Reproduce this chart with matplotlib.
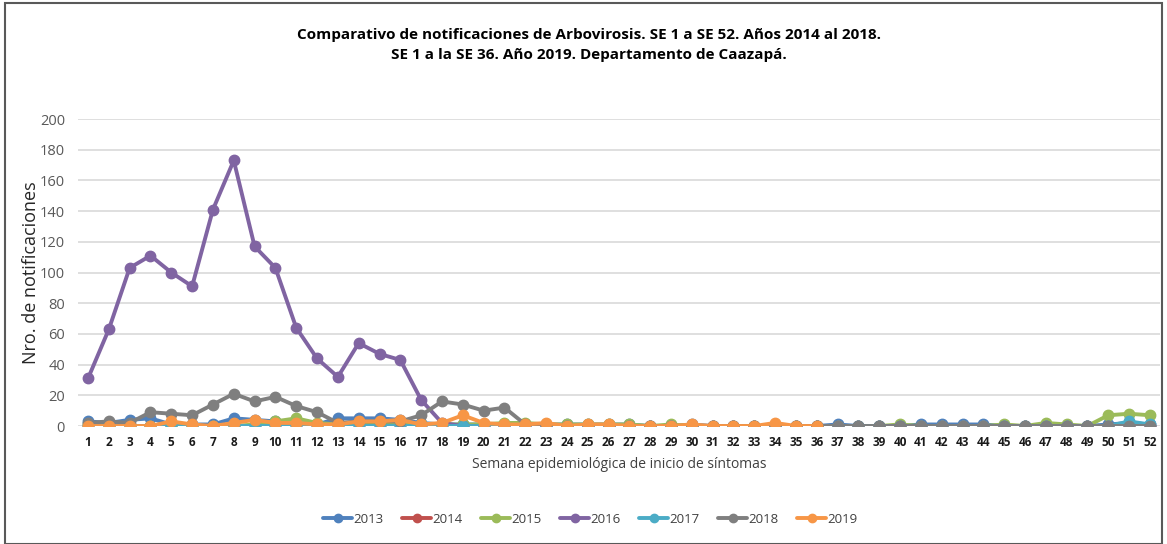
import matplotlib
matplotlib.use('Agg')
import matplotlib.pyplot as plt
from matplotlib.patches import Rectangle

# Semanas epidemiologicas
semanas = list(range(1, 53))

s2013 = [3, 2, 4, 5, 1, 1, 1, 5, 4, 3, 2, 1, 5, 5, 5, 4, 2, 1, 1, 1,
         1, 1, 1, 1, 1, 1, 1, 0, 0, 1, 0, 0, 0, 0, 0, 0, 1, 0, 0, 0,
         1, 1, 1, 1, 0, 0, 0, 0, 0, 1, 2, 1]
s2014 = [0] * 52
s2015 = [1, 0, 0, 0, 0, 0, 0, 0, 1, 3, 5, 2, 1, 2, 2, 2, 1, 1, 1, 1,
         2, 2, 1, 1, 1, 1, 1, 0, 1, 0, 0, 0, 0, 0, 0, 0, 0, 0, 0, 1,
         0, 0, 0, 0, 1, 0, 2, 1, 0, 7, 8, 7]
s2016 = [31, 63, 103, 111, 100, 91, 141, 173, 117, 103, 64, 44, 32, 54, 47, 43, 17, 2, 0, 0,
         0, 0, 0, 0, 0, 0, 0, 0, 0, 0, 0, 0, 0, 0, 0, 0, 0, 0, 0, 0,
         0, 0, 0, 0, 0, 0, 0, 0, 0, 0, 0, 0]
s2017 = [0, 0, 0, 0, 0, 0, 0, 0, 0, 0, 0, 0, 0, 0, 0, 0, 0, 0, 0, 0,
         0, 0, 0, 0, 0, 0, 0, 0, 0, 0, 0, 0, 0, 0, 0, 0, 0, 0, 0, 0,
         0, 0, 0, 0, 0, 0, 0, 0, 0, 0, 3, 1]
s2018 = [2, 3, 2, 9, 8, 7, 14, 21, 16, 19, 13, 9, 2, 3, 3, 3, 7, 16, 14, 10,
         12, 1, 0, 0, 0, 0, 0, 0, 0, 0, 0, 0, 0, 0, 0, 0, 0, 0, 0, 0,
         0, 0, 0, 0, 0, 0, 0, 0, 0, 0, 0, 0]
s2019 = [0, 0, 0, 0, 3, 1, 0, 2, 4, 2, 2, 1, 1, 3, 3, 4, 1, 2, 7, 2,
         1, 1, 2, 0, 1, 1, 0, 0, 0, 1, 0, 0, 0, 2, 0, 0]

series = [
    ('2013', s2013, '#4F81BD'),
    ('2014', s2014, '#C0504D'),
    ('2015', s2015, '#9BBB59'),
    ('2016', s2016, '#8064A2'),
    ('2017', s2017, '#4BACC6'),
    ('2018', s2018, '#7F7F7F'),
    ('2019', s2019, '#F79646'),
]

plt.rcParams['font.family'] = ['Open Sans', 'DejaVu Sans']

fig = plt.figure(figsize=(11.67, 5.44), dpi=100)
ax = fig.add_axes([0.0665, 0.2169, 0.9278, 0.5643])

for name, vals, col in series:
    ax.plot(semanas[:len(vals)], vals, color=col, linewidth=2.8, marker='o',
            markersize=7.5, label=name, solid_capstyle='round')

ax.set_xlim(0.5, 52.5)
ax.set_ylim(0, 200)
ax.set_yticks(range(0, 201, 20))
ax.set_xticks(semanas)
ax.set_xticklabels([str(s) for s in semanas], fontsize=8.5, fontweight='bold', color='#1a1a1a')
ax.tick_params(axis='y', labelsize=10.5, labelcolor='#595959', length=0, pad=9)
ax.tick_params(axis='x', length=0, pad=7)
ax.grid(axis='y', color='#D9D9D9', linewidth=1.2)
ax.set_axisbelow(True)
for sp in ax.spines.values():
    sp.set_visible(False)

ax.set_ylabel('Nro. de notificaciones', fontsize=13, color='#262626', labelpad=0)
ax.set_xlabel('Semana epidemiológica de inicio de síntomas', fontsize=10, color='#404040', labelpad=6)

fig.text(0.505, 0.917, 'Comparativo de notificaciones de Arbovirosis. SE 1 a SE 52. Años 2014 al 2018.\n'
         'SE 1 a la SE 36. Año 2019. Departamento de Caazapá.',
         ha='center', va='center', fontsize=11, fontweight='bold', linespacing=1.55)

leg = fig.legend(loc='center', bbox_to_anchor=(0.506, 0.045), ncol=7, frameon=False,
                 fontsize=9.5, handlelength=2.2, columnspacing=1.4, handletextpad=0.1,
                 markerscale=0.8)
for t in leg.get_texts():
    t.set_color('#404040')

fig.patches.append(Rectangle((0.004, 0.0), 0.992, 0.994, transform=fig.transFigure,
                             fill=False, edgecolor='#595959', linewidth=1.5))

fig.savefig('out.png', dpi=100)
